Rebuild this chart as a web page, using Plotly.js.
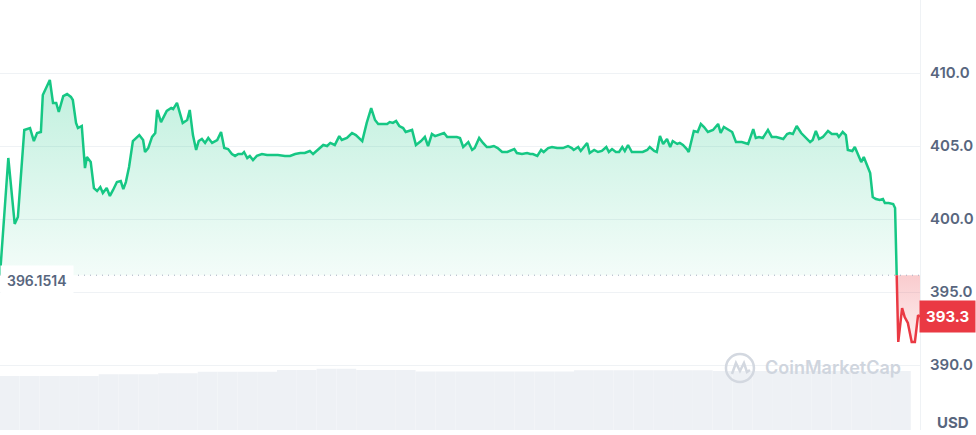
<!DOCTYPE html>
<html>
<head>
<meta charset="utf-8">
<script src="https://cdn.plot.ly/plotly-3.0.1.min.js"></script>
<style>
  html, body { margin: 0; padding: 0; background: #ffffff; }
  #chart { width: 976px; height: 435px; }
</style>
</head>
<body>
<div id="chart"></div>
<script>
// ---- Data (24h price, minutes since start) ----
const minutes = [0,13,23,28,38,47,53,58,64,67,78,83,88,92,99,105,111,114,119,122,128,133,136,142,147,152,157,161,167,172,177,183,189,193,197,202,208,214,218,224,227,232,238,243,246,252,257,261,268,271,277,282,286,293,297,302,307,311,316,321,326,332,340,346,351,357,363,368,373,379,382,387,391,396,402,410,418,426,435,446,454,462,470,477,485,490,498,506,512,517,524,531,535,543,551,557,567,574,581,587,592,599,606,610,615,620,625,631,635,645,651,659,665,670,676,681,689,695,700,707,715,720,725,733,739,743,750,756,762,767,773,779,786,794,800,805,809,817,825,830,834,841,847,851,858,864,872,877,881,889,895,898,905,909,919,923,930,936,942,949,953,958,964,969,974,978,983,989,997,1006,1013,1017,1024,1028,1033,1038,1044,1049,1053,1060,1064,1069,1075,1078,1086,1092,1097,1102,1108,1116,1124,1128,1133,1139,1146,1152,1161,1166,1171,1179,1183,1188,1194,1202,1208,1215,1221,1226,1232,1236,1241,1247,1254,1260,1268,1272,1277,1282,1288,1296,1302,1310,1313,1319,1324,1327,1334,1338,1343,1348,1352,1357,1362,1366,1371,1377,1382,1385,1391,1398,1401,1406,1412,1416,1421,1427,1432,1437,1440];
const prices = [396.15,404.18,399.66,400.14,406.10,406.23,405.34,405.89,405.96,408.49,409.52,407.95,407.95,407.33,408.42,408.56,408.36,408.15,406.58,406.23,406.37,403.49,404.25,403.90,402.12,401.92,402.19,401.78,402.12,401.58,401.99,402.53,402.60,402.05,402.53,403.56,405.34,405.62,405.75,405.41,404.59,404.86,405.62,405.89,407.47,406.64,407.12,407.40,407.60,407.53,407.95,407.12,406.58,406.78,407.47,405.75,404.73,405.34,405.48,405.21,405.55,405.21,405.41,405.96,404.86,404.79,404.45,404.32,404.45,404.45,404.59,404.18,404.32,404.04,404.32,404.45,404.38,404.38,404.38,404.32,404.32,404.45,404.52,404.52,404.66,404.45,404.73,405.07,405.00,405.21,405.07,405.68,405.41,405.55,405.89,405.75,405.34,406.58,407.60,406.78,406.51,406.51,406.51,406.64,406.58,406.71,406.37,406.23,405.96,406.10,405.07,405.34,405.62,405.00,405.82,405.68,405.82,405.89,405.62,405.62,405.62,405.55,404.93,405.27,404.73,404.86,405.55,405.21,404.93,404.93,405.00,404.86,404.59,404.59,404.73,404.79,404.52,404.45,404.52,404.45,404.45,404.32,404.73,404.59,404.86,404.93,404.86,404.86,404.86,405.00,404.86,404.73,404.93,404.66,405.21,404.52,404.73,404.59,404.66,404.93,404.59,404.79,404.59,404.59,404.93,404.66,405.07,404.59,404.59,404.59,404.73,404.93,404.66,404.59,405.68,405.14,405.48,404.93,405.34,405.14,405.21,405.07,404.79,404.59,406.03,405.96,406.51,406.30,405.96,406.10,406.51,405.89,406.30,406.16,405.96,405.27,405.27,405.21,405.14,406.16,405.55,405.62,405.55,406.10,405.62,405.62,405.55,405.48,405.82,405.89,405.82,406.37,405.89,405.62,405.27,405.41,406.03,405.48,405.62,406.03,405.82,405.82,405.62,405.96,405.75,404.73,404.66,404.93,404.38,403.90,404.25,403.70,403.15,401.51,401.37,401.30,401.37,401.10,401.10,401.03,400.75,391.58,393.90,393.29,392.88,391.58,391.58,393.42,393.30];
const baselinePrice = 396.1514;
const lastPrice = 393.3;
const tickVals = [390, 395, 400, 405, 410];
const tickText = ['390.0', '395.0', '400.0', '405.0', '410.0'];
const currency = 'USD';
const brand = 'CoinMarketCap';

// ---- Volume (M USD, 31-minute buckets) ----
const volMinutes = [15,46,77,108,139,170,201,232,263,294,325,356,387,418,449,480,511,542,573,604,635,666,697,728,759,790,821,852,883,914,945,976,1007,1038,1069,1100,1131,1162,1193,1224,1255,1286,1317,1348,1379,1410];
const volumes = [10.05,10.05,10.05,10.05,10.05,10.36,10.36,10.36,10.55,10.55,10.85,10.85,10.85,10.85,11.16,11.16,11.40,11.40,11.16,11.16,11.16,10.88,10.88,10.88,10.88,10.88,10.88,10.88,10.88,11.11,11.11,11.11,11.11,11.11,11.11,11.11,10.98,10.98,10.98,10.98,10.98,10.98,10.98,10.98,10.98,10.98];

// ---- split series at the baseline crossing ----
let cross = prices.findIndex((p, i) => i > 0 && p < baselinePrice);
const p0 = prices[cross - 1], p1 = prices[cross];
const t0 = minutes[cross - 1], t1 = minutes[cross];
const tc = t0 + (t1 - t0) * (p0 - baselinePrice) / (p0 - p1);

const gx = minutes.slice(0, cross).concat([tc]);
const gy = prices.slice(0, cross).concat([baselinePrice]);
const rx = [tc].concat(minutes.slice(cross));
const ry = [baselinePrice].concat(prices.slice(cross));

const GREEN = '#16c784';
const RED = '#ea3943';
const GREY = '#58667e';

const traces = [
  {
    type: 'bar', x: volMinutes, y: volumes, width: 31, yaxis: 'y2',
    marker: { color: '#eef1f5', line: { width: 0 } }, hoverinfo: 'skip'
  },
  {
    type: 'scatter', mode: 'lines', x: [gx[0], gx[gx.length - 1]], y: [baselinePrice, baselinePrice],
    line: { width: 0, color: 'rgba(0,0,0,0)' }, hoverinfo: 'skip'
  },
  {
    type: 'scatter', mode: 'lines', x: gx, y: gy, fill: 'tonexty',
    line: { color: GREEN, width: 2.5 },
    fillcolor: 'rgba(22,199,132,0.15)',
    fillgradient: { type: 'vertical', start: baselinePrice, stop: 409.6,
      colorscale: [[0, 'rgba(22,199,132,0.05)'], [1, 'rgba(22,199,132,0.27)']] },
    hoverinfo: 'skip'
  },
  {
    type: 'scatter', mode: 'lines', x: [rx[0], rx[rx.length - 1]], y: [baselinePrice, baselinePrice],
    line: { width: 0, color: 'rgba(0,0,0,0)' }, hoverinfo: 'skip'
  },
  {
    type: 'scatter', mode: 'lines', x: rx, y: ry, fill: 'tonexty',
    line: { color: RED, width: 2.5 },
    fillcolor: 'rgba(234,57,67,0.15)',
    fillgradient: { type: 'vertical', start: 391.5, stop: baselinePrice,
      colorscale: [[0, 'rgba(234,57,67,0.08)'], [1, 'rgba(234,57,67,0.26)']] },
    hoverinfo: 'skip'
  }
];

const layout = {
  width: 976, height: 435,
  margin: { l: 0, r: 56, t: 0, b: 5, pad: 0 },
  paper_bgcolor: '#ffffff', plot_bgcolor: '#ffffff',
  showlegend: false,
  font: { family: 'Inter, Roboto, sans-serif', color: GREY },
  xaxis: { range: [0, 1440], visible: false, fixedrange: true },
  yaxis: {
    side: 'right', range: [385.55, 415.0],
    tickvals: tickVals, ticktext: tickText,
    tickfont: { family: 'Inter, sans-serif', size: 15, color: GREY, weight: 600 },
    ticks: '', ticklabelstandoff: 6,
    showgrid: true, gridcolor: '#eff2f5', gridwidth: 1,
    zeroline: false, showline: true, linecolor: '#eff2f5', linewidth: 1,
    fixedrange: true
  },
  yaxis2: { overlaying: 'y', range: [0, 80], visible: false, fixedrange: true },
  shapes: [
    { type: 'line', xref: 'paper', x0: 0, x1: 1, yref: 'y', y0: baselinePrice, y1: baselinePrice,
      line: { color: '#a6afc0', width: 1, dash: '1px,5px' }, layer: 'above' },
    { type: 'circle', xref: 'paper', yref: 'paper', xsizemode: 'pixel', ysizemode: 'pixel',
      xanchor: 0.8043, yanchor: 0.1442, x0: -14, x1: 14, y0: -14, y1: 14,
      line: { color: '#d3d8e0', width: 2.5 }, layer: 'above' },
    { type: 'path', xref: 'paper', yref: 'paper', xsizemode: 'pixel', ysizemode: 'pixel',
      xanchor: 0.8043, yanchor: 0.1442,
      path: 'M -8 -6 L -4 5 L 0 -3 L 4 5 L 7 -4 L 10 -2',
      line: { color: '#d3d8e0', width: 2.5 }, layer: 'above' }
  ],
  annotations: [
    { xref: 'paper', x: 0, xanchor: 'left', yref: 'y', y: baselinePrice, yanchor: 'top', yshift: 10,
      text: baselinePrice.toFixed(4), showarrow: false,
      font: { family: 'Inter, sans-serif', size: 14, color: GREY, weight: 600 },
      bgcolor: '#ffffff', borderpad: 6 },
    { xref: 'paper', x: 1, xanchor: 'left', xshift: -1, yref: 'y', y: lastPrice, yanchor: 'middle',
      text: lastPrice.toFixed(1), showarrow: false,
      font: { family: 'Inter, sans-serif', size: 15, color: '#ffffff', weight: 700 },
      bgcolor: RED, borderpad: 6 },
    { xref: 'paper', x: 1, xanchor: 'left', xshift: 15, yref: 'paper', y: 0.0186, yanchor: 'middle',
      text: currency, showarrow: false,
      font: { family: 'Inter, sans-serif', size: 15, color: GREY, weight: 700 } },
    { xref: 'paper', x: 0.8293, xanchor: 'left', yref: 'paper', y: 0.1442, yanchor: 'middle',
      text: brand, showarrow: false,
      font: { family: 'Inter, sans-serif', size: 18, color: '#cfd5de', weight: 600 } }
  ]
};

Plotly.newPlot('chart', traces, layout, { staticPlot: true, displayModeBar: false });
</script>
</body>
</html>
